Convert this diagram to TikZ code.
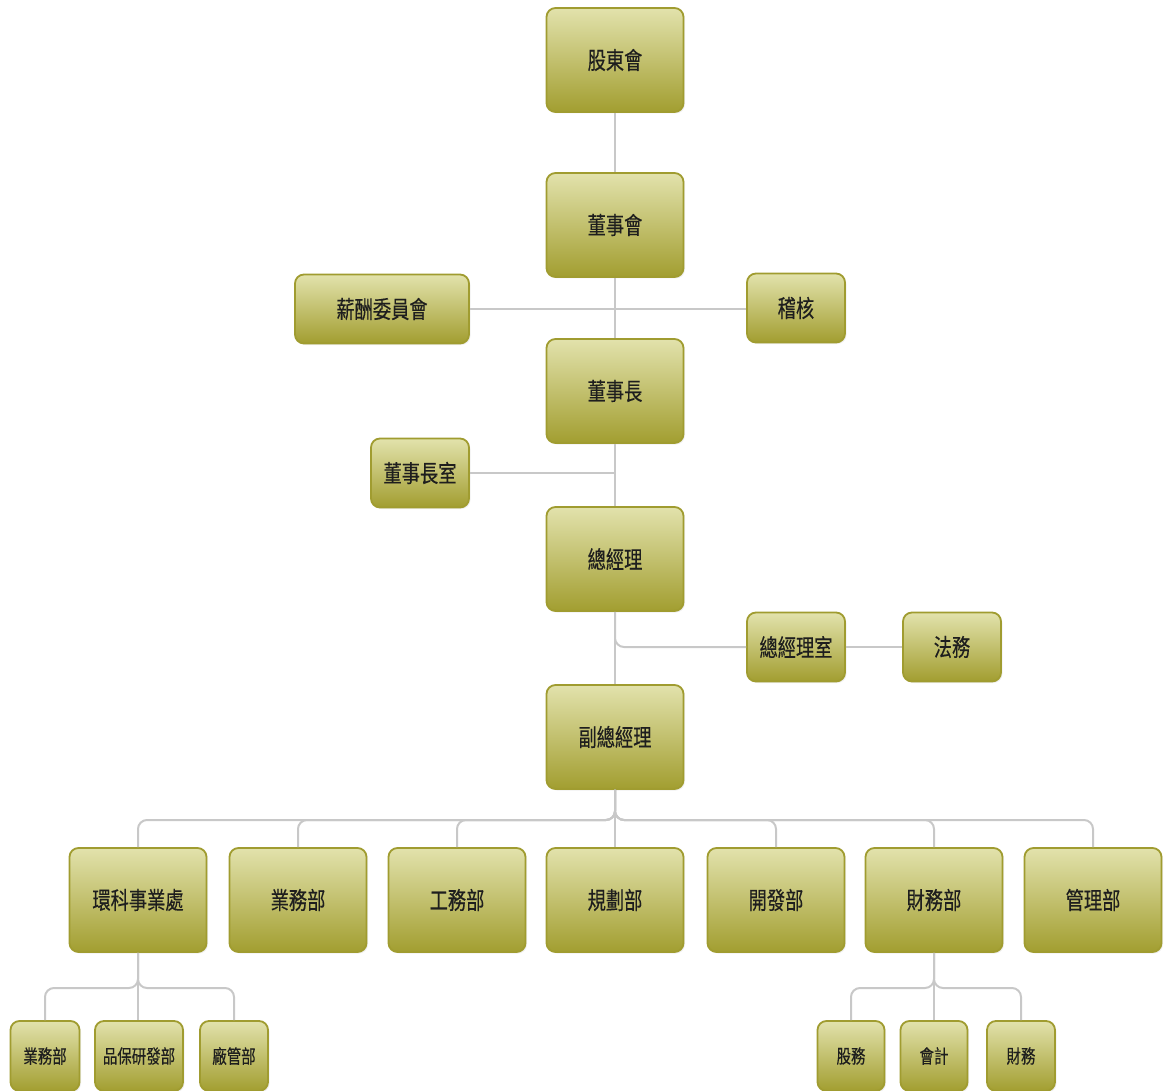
\documentclass[tikz,border=0pt]{standalone}
\usepackage{fontspec}
\newfontfamily\cjk[FakeStretch=0.76,FakeBold=0.3]{Noto Sans CJK TC}
\usetikzlibrary{shadows}
\definecolor{boxtop}{RGB}{226,226,172}
\definecolor{boxbot}{RGB}{162,158,48}
\definecolor{boxline}{RGB}{160,156,48}
\definecolor{connc}{RGB}{200,200,200}
\definecolor{txtc}{RGB}{30,30,30}
\tikzset{
  box/.style={draw=boxline, line width=1.8pt, rounded corners=9pt,
    top color=boxtop, bottom color=boxbot, inner sep=0pt, text=txtc,
    drop shadow={opacity=0.12, shadow xshift=1.5pt, shadow yshift=-1.5pt}},
  bigbox/.style={box, minimum width=137pt, minimum height=104pt,
    font=\cjk\fontsize{24}{24}\selectfont},
  midbox/.style={box, minimum height=69pt,
    font=\cjk\fontsize{24}{24}\selectfont},
  smallbox/.style={box, minimum height=70pt,
    font=\cjk\fontsize{19}{19}\selectfont},
  conn/.style={draw=connc, line width=2pt, rounded corners=9pt}
}
\begin{document}
\begin{tikzpicture}[x=1pt,y=-1pt]
\useasboundingbox (0,0) rectangle (1167,1091);
\coordinate (bus) at (615,820);
\coordinate (busL) at (138,988);
\coordinate (busR) at (934,988);
% nodes
\node[bigbox] (sh) at (615,60) {股東會};
\node[bigbox] (bd) at (615,225) {董事會};
\node[midbox, minimum width=174pt] (comp) at (382,309) {薪酬委員會};
\node[midbox, minimum width=98pt] (aud) at (796,308) {稽核};
\node[bigbox] (ch) at (615,391) {董事長};
\node[midbox, minimum width=98pt] (cho) at (420,473) {董事長室};
\node[bigbox] (gm) at (615,559) {總經理};
\node[midbox, minimum width=98pt] (gmo) at (796,647) {總經理室};
\node[midbox, minimum width=98pt] (law) at (952,647) {法務};
\node[bigbox] (vp) at (615,737) {副總經理};
\node[bigbox] (d1) at (138,900) {環科事業處};
\node[bigbox] (d2) at (298,900) {業務部};
\node[bigbox] (d3) at (457,900) {工務部};
\node[bigbox] (d4) at (615,900) {規劃部};
\node[bigbox] (d5) at (776,900) {開發部};
\node[bigbox] (d6) at (934,900) {財務部};
\node[bigbox] (d7) at (1093,900) {管理部};
\node[smallbox, minimum width=69pt] (s1) at (45,1056) {業務部};
\node[smallbox, minimum width=88pt] (s2) at (139,1056) {品保研發部};
\node[smallbox, minimum width=68pt] (s3) at (234,1056) {廠管部};
\node[smallbox, minimum width=67pt] (f1) at (851,1056) {股務};
\node[smallbox, minimum width=67pt] (f2) at (934,1056) {會計};
\node[smallbox, minimum width=68pt] (f3) at (1021,1056) {財務};
% connectors
\draw[conn] (sh.south) -- (bd.north);
\draw[conn] (bd.south) -- (ch.north);
\draw[conn] (comp.east) -- (comp.east -| aud.west);
\draw[conn] (ch.south) -- (gm.north);
\draw[conn] (cho.east) -- (cho.east -| ch.south);
\draw[conn] (gm.south) -- (vp.north);
\draw[conn] (gm.south) |- (gmo.west);
\draw[conn] (gmo.east) -- (law.west);
\foreach \c in {d1,d2,d3,d5,d6,d7}{
  \draw[conn] (vp.south) -- (bus) -| (\c.north);
}
\draw[conn] (vp.south) -- (d4.north);
\foreach \c in {s1,s3}{
  \draw[conn] (d1.south) -- (busL) -| (\c.north);
}
\draw[conn] (d1.south) -- (d1.south |- s2.north);
\foreach \c in {f1,f3}{
  \draw[conn] (d6.south) -- (busR) -| (\c.north);
}
\draw[conn] (d6.south) -- (f2.north);
\end{tikzpicture}
\end{document}
